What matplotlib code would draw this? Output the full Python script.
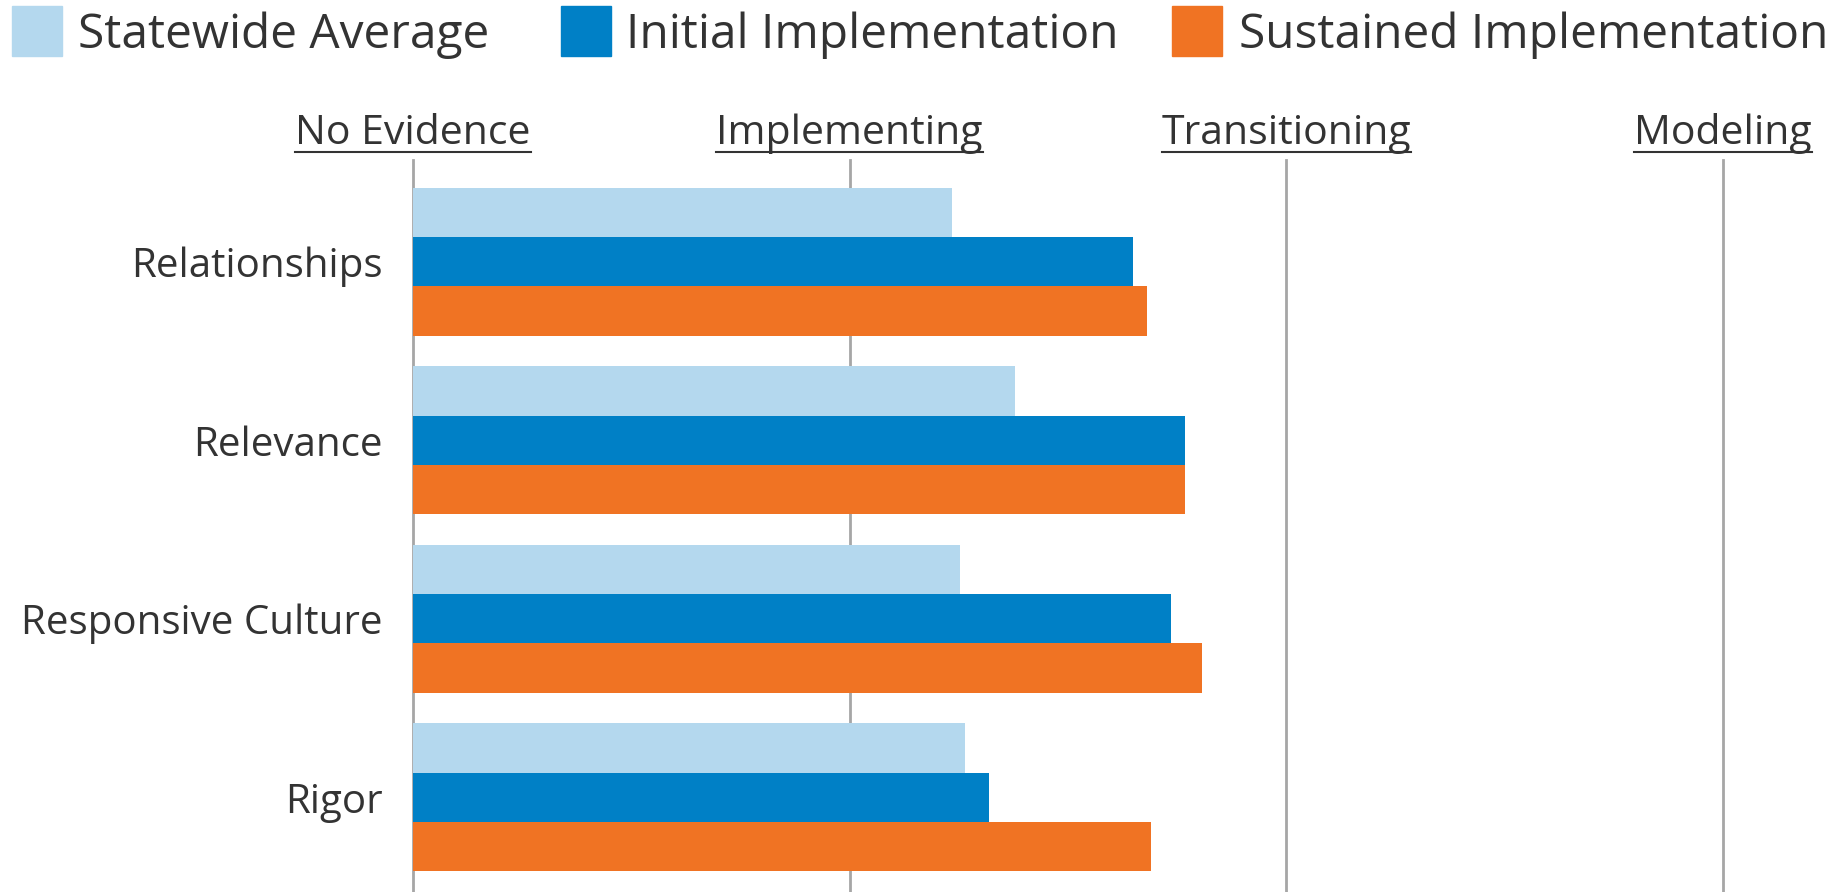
import matplotlib
matplotlib.use("Agg")
import matplotlib.pyplot as plt
from matplotlib.patches import Rectangle
import numpy as np

categories = ["Relationships", "Relevance", "Responsive Culture", "Rigor"]
levels = ["No Evidence", "Implementing", "Transitioning", "Modeling"]
series_names = ["Statewide Average", "Initial Implementation", "Sustained Implementation"]
statewide = [1.235, 1.378, 1.253, 1.264]
initial = [1.649, 1.767, 1.737, 1.318]
sustained = [1.682, 1.767, 1.806, 1.690]
colors = ["#B4D8EE", "#0080C6", "#F07323"]

plt.rcParams['font.family'] = ['Open Sans', 'DejaVu Sans']
text_color = "#333333"

fig = plt.figure(figsize=(18.41, 8.92), dpi=100)
ax = fig.add_axes([413/1841, 0.0, (1723-413)/1841, 732/892])

y = np.arange(len(categories))
h = 0.276
for i, (vals, col) in enumerate(zip([statewide, initial, sustained], colors)):
    ax.barh(y + (i - 1) * h, vals, height=h, color=col, zorder=2, linewidth=0)

for k in range(len(levels)):
    ax.axvline(k, color="#A6A6A6", linewidth=2, zorder=1, clip_on=False)

ax.set_xlim(0, 3)
ax.set_ylim(3.53, -0.57)
ax.set_yticks(y)
ax.set_yticklabels(categories, fontsize=29, color=text_color)
ax.tick_params(axis='y', length=0, pad=22)
ax.xaxis.tick_top()
ax.set_xticks(range(len(levels)))
ax.set_xticklabels([])
ax.tick_params(axis='x', length=0)
for s in ax.spines.values():
    s.set_visible(False)

# underlined level labels
fig.canvas.draw()
renderer = fig.canvas.get_renderer()
for k, lab in enumerate(levels):
    t = ax.text(k, 1.0 + 26/732, lab, transform=ax.get_xaxis_transform(),
                ha='center', va='center', fontsize=29.5, color=text_color)
    bb = t.get_window_extent(renderer)
    x0 = ax.transData.inverted().transform((bb.x0, 0))[0]
    x1 = ax.transData.inverted().transform((bb.x1, 0))[0]
    ax.plot([x0, x1], [1.0 + 8/732] * 2, transform=ax.get_xaxis_transform(),
            color=text_color, linewidth=1.5, clip_on=False)

# legend
leg_patch_x = [12, 561, 1172]
leg_text_x = [78, 626, 1239]
for px, tx, name, col in zip(leg_patch_x, leg_text_x, series_names, colors):
    fig.patches.append(Rectangle((px/1841, (892-56)/892), 50/1841, 50/892,
                                 transform=fig.transFigure, color=col, figure=fig))
    fig.text(tx/1841, (892-35)/892, name, ha='left', va='center', fontsize=34.5,
             color=text_color)

fig.savefig("out.png", dpi=100)
